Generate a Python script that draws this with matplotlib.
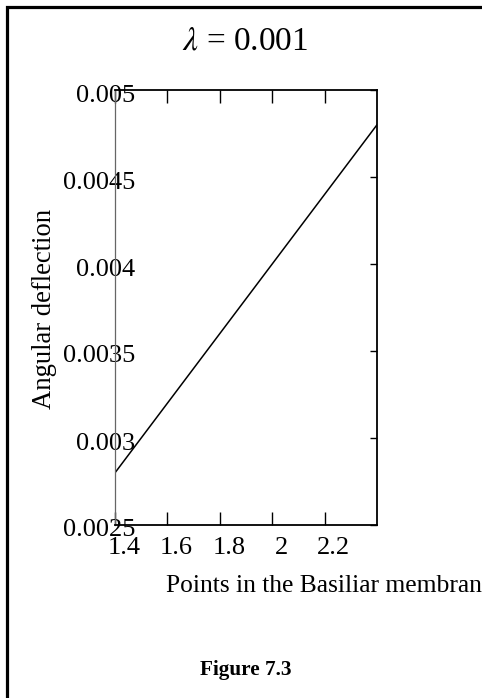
import numpy as np
import matplotlib
matplotlib.use('Agg')
import matplotlib.pyplot as plt
from matplotlib.transforms import ScaledTranslation
from matplotlib.patches import Rectangle

# data
x_points = [1.4, 2.4]
deflection = [0.0028, 0.0048]
xtick_vals = [1.4, 1.6, 1.8, 2.0, 2.2]
xtick_labels = ['1.4', '1.6', '1.8', '2', '2.2']
ytick_vals = [0.0025, 0.003, 0.0035, 0.004, 0.0045, 0.005]
ytick_labels = ['0.0025', '0.003', '0.0035', '0.004', '0.0045', '0.005']

plt.rcParams['font.family'] = ['Liberation Serif', 'DejaVu Serif']
plt.rcParams['mathtext.fontset'] = 'stix'

W, H = 482, 698
fig = plt.figure(figsize=(W / 100, H / 100), dpi=100)

def fx(px):
    return px / W

def fy(py):
    return 1 - py / H

ax = fig.add_axes([fx(115), fy(525), fx(377) - fx(115), fy(90) - fy(525)])
ax.plot(x_points, deflection, color='black', lw=1.1)
ax.set_xlim(1.4, 2.4)
ax.set_ylim(0.0025, 0.005)

ax.set_xticks(xtick_vals)
ax.set_xticklabels(xtick_labels)
ax.set_yticks(ytick_vals)
ax.set_yticklabels(ytick_labels)

ax.tick_params(axis='x', top=True, bottom=True, direction='in', length=9.4,
               width=1, pad=8.5, labelsize=19)
ax.tick_params(axis='y', left=False, right=True, direction='in', length=5,
               width=1, pad=-14.4, labelsize=19)

for s in ['top', 'right', 'bottom']:
    ax.spines[s].set_linewidth(1.3)
ax.spines['left'].set_linewidth(0.9)
ax.spines['left'].set_color('#666666')

fig.canvas.draw()
# tick labels sit a bit off their ticks in the original
for lab in ax.get_xticklabels():
    lab.set_transform(lab.get_transform() + ScaledTranslation(0.09, 0, fig.dpi_scale_trans))
for lab in ax.get_yticklabels():
    lab.set_transform(lab.get_transform() + ScaledTranslation(0, -0.03, fig.dpi_scale_trans))

fig.text(fx(245), fy(50), r'$\lambda$ = 0.001', ha='center', va='baseline', fontsize=24)
fig.text(fx(45), fy(309), 'Angular deflection', rotation=90, ha='center', va='center',
         fontsize=19.2)
fig.text(fx(166), fy(592), 'Points in the Basiliar membrane', ha='left', va='baseline',
         fontsize=18.4)
fig.text(fx(246), fy(675), 'Figure 7.3', ha='center', va='baseline', fontsize=15.3,
         fontweight='bold')

# page frame, only top and left edges fall inside the image
fig.patches.append(Rectangle((fx(6.5), fy(720)), fx(520), fy(6.5) - fy(720),
                             transform=fig.transFigure, fill=False, lw=2.3,
                             edgecolor='black'))

fig.savefig('out.png', dpi=100)
